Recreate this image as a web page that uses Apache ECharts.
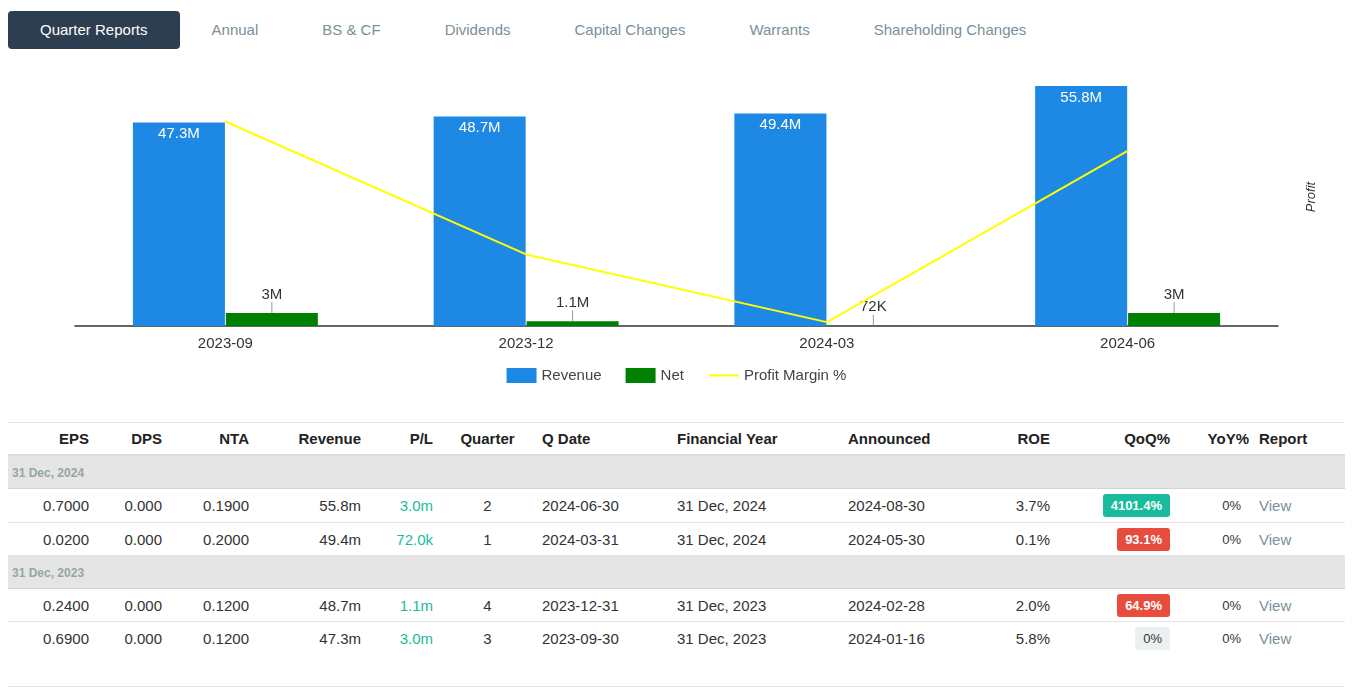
<!DOCTYPE html>
<html>
<head>
<meta charset="utf-8">
<script src="https://cdn.jsdelivr.net/npm/echarts@6/dist/echarts.min.js"></script>
<style>
  html, body { margin: 0; padding: 0; background: #fff; }
  body { width: 1358px; height: 694px; position: relative; overflow: hidden;
         font-family: 'Liberation Sans', Arial, Helvetica, sans-serif; color: #333; }
  #tabs { position: absolute; left: 8px; top: 11px; height: 38px; display: flex; }
  .tab { padding: 0 32px; line-height: 38px; font-size: 15px; color: #7b8f99; white-space: nowrap; }
  .tab.active { background: #2c3e50; color: #fff; border-radius: 4px; }
  #chart { position: absolute; left: 8px; top: 60px; width: 1337px; height: 340px; }
  #table { position: absolute; left: 8px; top: 422px; width: 1337px; font-size: 15px; }
  .row { display: flex; box-sizing: border-box; width: 1337px; }
  .cell { box-sizing: border-box; padding: 0 5px; display: flex; align-items: center; white-space: nowrap; }
  .r { justify-content: flex-end; }
  .c { justify-content: center; }
  .l { justify-content: flex-start; }
  .head { height: 34px; border-top: 1px solid #e6e6e6; border-bottom: 2px solid #dadde0; font-weight: bold; color: #222; }
  .group { height: 33px; background: #e5e5e5; border-bottom: 1px solid #d2d4d6; }
  .group .cell { font-size: 12px; font-weight: bold; color: #95a5a6; padding-left: 4px; padding-top: 2px; }
  .data { height: 33px; border-bottom: 1px solid #e3e3e3; }
  .data.first { height: 34px; }
  .data.last { border-bottom: none; }
  .pl { color: #18bc9c; }
  .badge { display: inline-block; font-size: 13px; line-height: 15px; padding: 4px 8px; border-radius: 3px; }
  .badge.up { background: #18bc9c; color: #fff; font-weight: bold; }
  .badge.down { background: #e74c3c; color: #fff; font-weight: bold; }
  .badge.flat { background: #ecf0f1; color: #333; }
  .badge.none { background: transparent; color: #333; }
  .view { color: #7b8f99; }
  #bottomline { position: absolute; left: 8px; top: 686px; width: 1337px; border-top: 1px solid #e6e6e6; }
</style>
</head>
<body>
<div id="tabs"></div>
<div id="chart"></div>
<div id="table"></div>
<div id="bottomline"></div>
<script>
// ---- data ----
const tabNames = ['Quarter Reports', 'Annual', 'BS & CF', 'Dividends', 'Capital Changes', 'Warrants', 'Shareholding Changes'];
const categories = ['2023-09', '2023-12', '2024-03', '2024-06'];
const revenue = [47.3e6, 48.7e6, 49.4e6, 55.8e6];
const net = [3.0e6, 1.1e6, 72e3, 3.0e6];
const profitMargin = [6.34, 2.22, 0.12, 5.43];
const seriesNames = ['Revenue', 'Net', 'Profit Margin %'];

const tableHeaders = ['EPS', 'DPS', 'NTA', 'Revenue', 'P/L', 'Quarter', 'Q Date', 'Financial Year', 'Announced', 'ROE', 'QoQ%', 'YoY%', 'Report'];
const groupLabels = ['31 Dec, 2024', '31 Dec, 2023'];
const rowGroup   = [0, 0, 1, 1];
const eps        = ['0.7000', '0.0200', '0.2400', '0.6900'];
const dps        = ['0.000', '0.000', '0.000', '0.000'];
const nta        = ['0.1900', '0.2000', '0.1200', '0.1200'];
const revText    = ['55.8m', '49.4m', '48.7m', '47.3m'];
const plText     = ['3.0m', '72.0k', '1.1m', '3.0m'];
const quarter    = ['2', '1', '4', '3'];
const qDate      = ['2024-06-30', '2024-03-31', '2023-12-31', '2023-09-30'];
const finYear    = ['31 Dec, 2024', '31 Dec, 2024', '31 Dec, 2023', '31 Dec, 2023'];
const announced  = ['2024-08-30', '2024-05-30', '2024-02-28', '2024-01-16'];
const roe        = ['3.7%', '0.1%', '2.0%', '5.8%'];
const qoq        = ['4101.4%', '93.1%', '64.9%', '0%'];
const qoqKind    = ['up', 'down', 'down', 'flat'];
const yoy        = ['0%', '0%', '0%', '0%'];

// ---- tabs ----
document.getElementById('tabs').innerHTML = tabNames.map((t, i) =>
  '<div class="tab' + (i === 0 ? ' active' : '') + '">' + t.replace('&', '&amp;') + '</div>').join('');

// ---- table ----
const colWidths = [86, 73, 87, 112, 72, 99, 135, 171, 117, 95, 120, 79, 91];
const colAlign  = ['r', 'r', 'r', 'r', 'r', 'c', 'l', 'l', 'l', 'r', 'r', 'r', 'l'];
function cellHtml(i, content) {
  return '<div class="cell ' + colAlign[i] + '" style="width:' + colWidths[i] + 'px">' + content + '</div>';
}
let html = '<div class="row head">' + tableHeaders.map((h, i) => cellHtml(i, h)).join('') + '</div>';
let lastGroup = -1;
for (let r = 0; r < eps.length; r++) {
  if (rowGroup[r] !== lastGroup) {
    lastGroup = rowGroup[r];
    html += '<div class="row group"><div class="cell l" style="width:1337px">' + groupLabels[lastGroup] + '</div></div>';
  }
  const cls = 'row data' + (r === 0 ? ' first' : '') + (r === eps.length - 1 ? ' last' : '');
  const vals = [eps[r], dps[r], nta[r], revText[r],
    '<span class="pl">' + plText[r] + '</span>', quarter[r], qDate[r], finYear[r], announced[r], roe[r],
    '<span class="badge ' + qoqKind[r] + '">' + qoq[r] + '</span>',
    '<span class="badge none">' + yoy[r] + '</span>',
    '<span class="view">View</span>'];
  html += '<div class="' + cls + '">' + vals.map((v, i) => cellHtml(i, v)).join('') + '</div>';
}
document.getElementById('table').innerHTML = html;

// ---- chart ----
function fmtMoney(v) {
  if (v >= 1e6) return +(v / 1e6).toFixed(1) + 'M';
  if (v >= 1e3) return +(v / 1e3).toFixed(1) + 'K';
  return String(v);
}
const FONT = "'Liberation Sans', Arial, sans-serif";
const chart = echarts.init(document.getElementById('chart'));
chart.setOption({
  animation: false,
  textStyle: { fontFamily: FONT },
  grid: { left: 67, right: 67, top: 8, bottom: 74 },
  legend: {
    data: [
      { name: seriesNames[0], icon: 'rect' },
      { name: seriesNames[1], icon: 'rect' },
      { name: seriesNames[2], itemStyle: { opacity: 0 }, lineStyle: { color: '#ffff00', width: 2, opacity: 1 } }
    ],
    top: 303, left: 'center',
    itemWidth: 30, itemHeight: 15, itemGap: 24,
    textStyle: { fontSize: 15, color: '#444', fontFamily: FONT }
  },
  xAxis: {
    type: 'category', data: categories,
    axisLine: { lineStyle: { color: '#333', width: 1.5 } },
    axisTick: { show: false },
    axisLabel: { fontSize: 15, color: '#333', margin: 10, fontFamily: FONT }
  },
  yAxis: [
    { type: 'value', min: 0, max: 60e6, show: false },
    {
      type: 'value', min: 0, max: 8, position: 'right',
      name: 'Profit', nameLocation: 'middle', nameGap: 27, nameRotate: 90,
      nameTextStyle: { fontSize: 13, fontStyle: 'italic', color: '#333', fontFamily: FONT },
      axisLine: { show: false }, axisTick: { show: false }, axisLabel: { show: false }, splitLine: { show: false }
    }
  ],
  series: [
    {
      name: seriesNames[0], type: 'bar', data: revenue,
      barGap: '1%', barCategoryGap: '38.5%',
      itemStyle: { color: '#1e88e5' },
      label: { show: true, position: 'insideTop', distance: 4, color: '#fff', fontSize: 15, fontFamily: FONT,
               formatter: p => fmtMoney(p.value) }
    },
    {
      name: seriesNames[1], type: 'bar', data: net,
      itemStyle: { color: '#008000' },
      label: { show: true, position: 'top', distance: 0, color: '#333', fontSize: 15, fontFamily: FONT,
               formatter: p => fmtMoney(p.value) },
      labelLayout: { dy: -11 },
      labelLine: { show: true, lineStyle: { color: '#999', width: 1 } }
    },
    {
      name: seriesNames[2], type: 'line', yAxisIndex: 1, data: profitMargin,
      symbol: 'none', z: 5,
      itemStyle: { color: '#ffff00' },
      lineStyle: { color: '#ffff00', width: 2 }
    }
  ]
});
</script>
</body>
</html>
